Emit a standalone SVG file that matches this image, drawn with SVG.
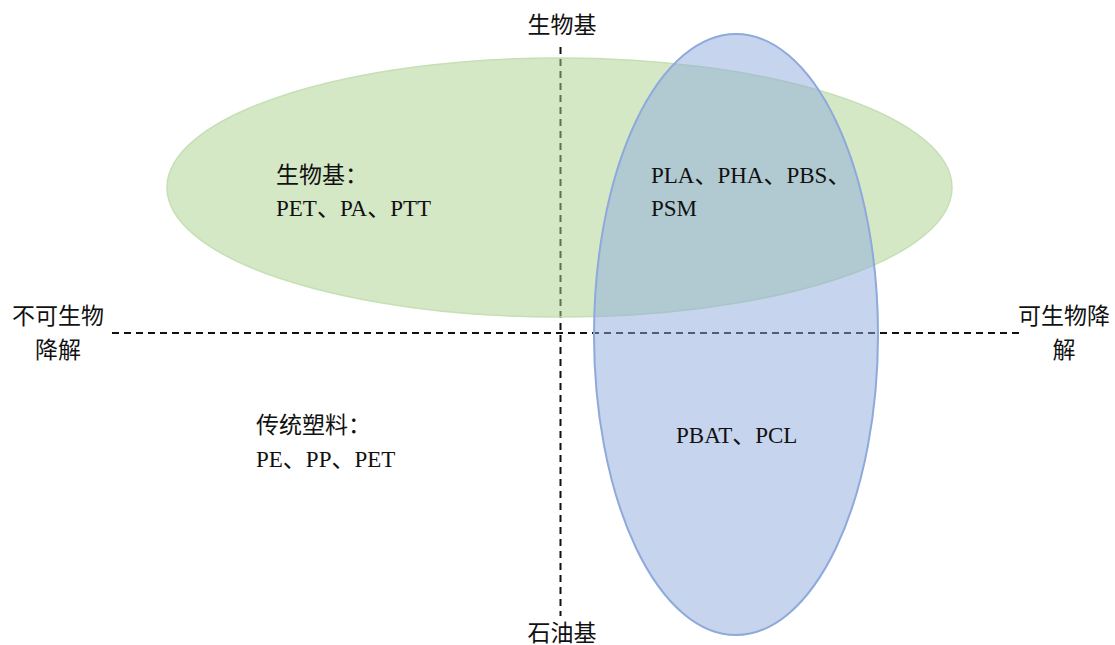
<svg xmlns="http://www.w3.org/2000/svg" width="1115" height="645" viewBox="0 0 1115 645">
<style>
text{font-family:"Liberation Serif","Noto Sans CJK SC",serif;font-size:23px;fill:#111}
.axis{stroke:#111;stroke-width:2;stroke-dasharray:7,5;fill:none}
.mid{text-anchor:middle}
</style>
<rect width="1115" height="645" fill="#fff"/>
<g id="connectors">
<line class="axis" x1="560.5" y1="47" x2="560.5" y2="616"/>
<line class="axis" x1="112" y1="333" x2="1020" y2="333"/>
</g>
<g id="bio-based-ellipse">
<ellipse cx="559.5" cy="187.5" rx="392.5" ry="129.5" fill="#A9D18E" fill-opacity="0.5" stroke="#C5E0B4" stroke-width="1.5"/>
</g>
<g id="biodegradable-ellipse">
<ellipse cx="736" cy="334.5" rx="142" ry="300.5" fill="#8EA9DB" fill-opacity="0.5" stroke="#8EA9DB" stroke-width="2"/>
</g>
<g id="label-top"><text class="mid" x="562" y="33">生物基</text></g>
<g id="label-bottom"><text class="mid" x="562" y="641">石油基</text></g>
<g id="label-left"><text class="mid" x="58" y="324">不可生物</text><text class="mid" x="58" y="358">降解</text></g>
<g id="label-right"><text class="mid" x="1064" y="324">可生物降</text><text class="mid" x="1064" y="358">解</text></g>
<g id="node-bio"><text x="276" y="183">生物基：</text><text x="276" y="216">PET、PA、PTT</text></g>
<g id="node-bio-degr"><text x="651" y="183">PLA、PHA、PBS、</text><text x="651" y="216">PSM</text></g>
<g id="node-traditional"><text x="256" y="433">传统塑料：</text><text x="256" y="467">PE、PP、PET</text></g>
<g id="node-petro-degr"><text x="676" y="443">PBAT、PCL</text></g>
</svg>
